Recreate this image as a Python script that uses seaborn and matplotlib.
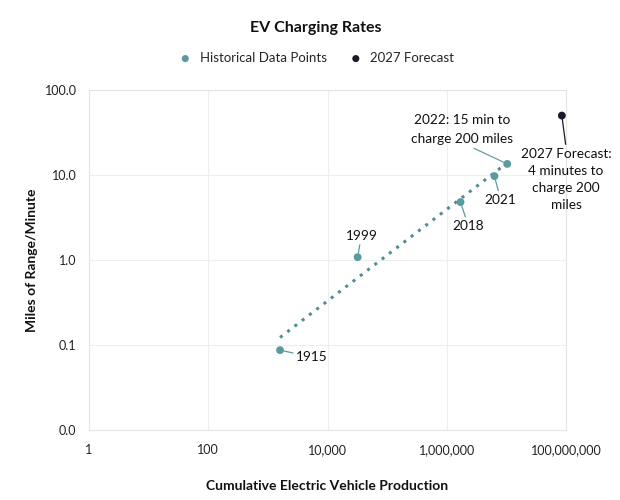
import numpy as np
import pandas as pd
import matplotlib.pyplot as plt
import seaborn as sns

# data
years = ['1915', '1999', '2018', '2021', '2022']
production = [1600, 32000, 1700000, 6300000, 10300000]
miles_per_min = [0.087, 1.08, 4.8, 9.7, 13.5]
forecast_prod = [85000000]
forecast_rate = [50]

teal = '#5a9aa1'
dark = '#1a1a2a'

sns.set_theme(style='white')
plt.rcParams['font.family'] = ['Lato', 'DejaVu Sans']

df = pd.DataFrame({'year': years, 'prod': production, 'rate': miles_per_min})
df_fc = pd.DataFrame({'prod': forecast_prod, 'rate': forecast_rate})

fig = plt.figure(figsize=(6.2, 5.0), dpi=100)
ax = fig.add_axes([0.1435, 0.14, 0.7695, 0.68])

sns.scatterplot(data=df, x='prod', y='rate', ax=ax, color=teal, s=32,
                edgecolor='none', label='Historical Data Points', zorder=3)
sns.scatterplot(data=df_fc, x='prod', y='rate', ax=ax, color=dark, s=32,
                edgecolor='none', label='2027 Forecast', zorder=3)

# power trendline (fit in log-log space)
lx = np.log10(df['prod'])
ly = np.log10(df['rate'])
b, a = np.polyfit(lx, ly, 1)
xs = np.logspace(lx.min(), lx.max(), 50)
ax.plot(xs, 10 ** (a + b * np.log10(xs)), linestyle=(0, (1, 2)),
        color='#4e8e96', lw=2.2, zorder=2)

ax.set_xscale('log')
ax.set_yscale('log')
ax.set_xlim(1, 1e8)
ax.set_ylim(0.01, 100)
ax.set_xticks([1, 100, 1e4, 1e6, 1e8])
ax.set_xticklabels(['1', '100', '10,000', '1,000,000', '100,000,000'])
ax.set_yticks([0.01, 0.1, 1, 10, 100])
ax.set_yticklabels(['0.0', '0.1', '1.0', '10.0', '100.0'])
ax.minorticks_off()
ax.tick_params(axis='both', length=0, labelsize=9, colors='#222222')
ax.tick_params(axis='x', pad=10)
ax.tick_params(axis='y', pad=9)
ax.grid(True, color='#eeeeee', lw=0.8)
for s in ax.spines.values():
    s.set_color('#e4e4e4')
    s.set_linewidth(0.8)

ax.set_xlabel('Cumulative Electric Vehicle Production', fontsize=10,
              fontweight='bold', labelpad=17, color='#111111')
ax.set_ylabel('Miles of Range/Minute', fontsize=10, fontweight='bold',
              labelpad=5, color='#111111')

fig.text(0.51, 0.944, 'EV Charging Rates', ha='center', va='center',
         fontsize=11.5, fontweight='bold', color='#111111')
ax.legend(loc='center', bbox_to_anchor=(0.47, 1.094), ncol=2, frameon=False,
          fontsize=9.5, handletextpad=0.1, columnspacing=1.2,
          markerscale=0.9)

lab_kw = dict(fontsize=9.8, color='#111111')
line_teal = dict(arrowstyle='-', color=teal, lw=0.9, shrinkA=0, shrinkB=3)
ax.annotate('1915', xy=(production[0], miles_per_min[0]), xytext=(3000, 0.072),
            va='center', ha='left', arrowprops=line_teal, **lab_kw)
ax.annotate('1999', xy=(production[1], miles_per_min[1]), xytext=(37000, 1.65),
            va='bottom', ha='center', arrowprops=line_teal, **lab_kw)
ax.annotate('2018', xy=(production[2], miles_per_min[2]), xytext=(2300000, 2.95),
            va='top', ha='center', arrowprops=line_teal, **lab_kw)
ax.annotate('2021', xy=(production[3], miles_per_min[3]), xytext=(8000000, 6.0),
            va='top', ha='center', arrowprops=line_teal, **lab_kw)
ax.annotate('2022: 15 min to\ncharge 200 miles', xy=(production[4], miles_per_min[4]),
            xytext=(1800000, 22.5), va='bottom', ha='center', linespacing=1.7,
            arrowprops=dict(arrowstyle='-', color='#6a9aa0', lw=0.9,
                            shrinkA=0, shrinkB=3,
                            relpos=(0.55, 0.0)), **lab_kw)
ax.annotate('2027 Forecast:\n4 minutes to\ncharge 200\nmiles', xy=(forecast_prod[0], forecast_rate[0]),
            xytext=(1.0e8, 21), va='top', ha='center', linespacing=1.5,
            arrowprops=dict(arrowstyle='-', color=dark, lw=0.9, shrinkA=0,
                            shrinkB=2, relpos=(0.5, 1.0)),
            annotation_clip=False, **lab_kw)

fig.savefig('out.png', dpi=100)
